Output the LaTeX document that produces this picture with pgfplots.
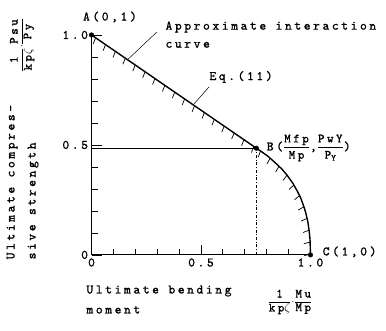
\documentclass[border=0pt]{standalone}
\usepackage{fontspec}
\usepackage{pgfplots}
\pgfplotsset{compat=1.18}
\usetikzlibrary{decorations.markings}

\newfontfamily\tw{lmmono10-regular.otf}[LetterSpace=20, FakeBold=1.2]
\newcommand\lab{\tw\fontsize{13}{15}\selectfont}
\newcommand\sm{\tw\fontsize{12.5}{14}\selectfont}
\newcommand\fr[2]{$\displaystyle\frac{\hbox{\sm #1}}{\hbox{\sm #2}}$}

\tikzset{hatch/.style={postaction={decorate,
  decoration={markings, mark=between positions 5bp and 1 step 12bp with
    {\draw[line width=0.7pt] (0,0) -- (-77:6.5bp);}}}}}

\begin{document}
\begin{tikzpicture}
\begin{axis}[
  x=219bp, y=220bp,
  xmin=0, xmax=1, ymin=0, ymax=1,
  enlargelimits=false,
  axis lines=left,
  axis line style={-, line width=1.1pt},
  xtick={0,0.5,1}, ytick={0,0.5,1},
  xticklabels={0,0.5,1.0}, yticklabels={0,0.5,1.0},
  minor xtick={0.1,0.2,0.3,0.4,0.6,0.7,0.8,0.9},
  minor ytick={0.1,0.2,0.3,0.4,0.6,0.7,0.8,0.9},
  tick align=inside,
  major tick length=10bp, minor tick length=6bp,
  tick style={line width=0.8pt, black},
  ticklabel style={font=\lab},
  clip=false,
]
% bounding box of the reference picture
\path (axis cs:-0.418,-0.345) rectangle (axis cs:1.345,1.159);

% interaction curve: straight part A-B, curved part B-C
\addplot[line width=1.4pt, hatch] coordinates {(0,1) (0.753,0.485)};
\addplot[line width=1.4pt, hatch] coordinates {
  (0.753,0.485) (0.78,0.467) (0.81,0.445) (0.84,0.418) (0.87,0.39)
  (0.895,0.36) (0.92,0.325) (0.94,0.29) (0.955,0.26) (0.968,0.225)
  (0.979,0.19) (0.988,0.15) (0.994,0.11) (0.998,0.07) (1,0)};

% guide lines through B
\addplot[line width=0.5pt] coordinates {(0,0.485) (0.753,0.485)};
\addplot[line width=0.5pt, dash dot] coordinates {(0.753,0) (0.753,0.485)};

% points A, B, C
\addplot[only marks, mark=*, mark size=2.3bp] coordinates {(0,1) (0.753,0.485) (1,0)};

% labels
\node[font=\lab] at (axis cs:0.084,1.082) {A(0,1)};
\node[font=\lab, anchor=west] at (axis cs:0.322,1.036) {Approximate interaction};
\node[font=\lab, anchor=west] at (axis cs:0.322,0.955) {curve};
\draw[line width=0.5pt] (axis cs:0.299,1.014) -- (axis cs:0.164,0.887);
\node[font=\lab] at (axis cs:0.683,0.809) {Eq.(11)};
\draw[line width=0.5pt] (axis cs:0.537,0.764) -- (axis cs:0.464,0.682);
\node[font=\lab, anchor=west, inner sep=0pt] at (axis cs:0.80,0.486)
  {B(\fr{Mfp}{Mp},\fr{PwY}{P\lower2pt\hbox{\fontsize{9}{10}\selectfont Y}})};
\node[font=\lab, anchor=west] at (axis cs:1.040,0.014) {C(1,0)};

% axis titles
\node[font=\lab, rotate=90, anchor=west] at (axis cs:-0.363,-0.036) {Ultimate compres-};
\node[font=\lab, rotate=90, anchor=west] at (axis cs:-0.267,-0.036) {sive strength};
\node[rotate=90] at (axis cs:-0.317,0.955) {\fr{1}{kp$\zeta$}$\cdot$\fr{Psu}{Py}};
\node[font=\lab, anchor=west] at (axis cs:-0.039,-0.164) {Ultimate bending};
\node[font=\lab, anchor=west] at (axis cs:-0.039,-0.250) {moment};
\node at (axis cs:0.906,-0.214) {\fr{1}{kp$\zeta$}$\cdot$\fr{Mu}{Mp}};
\end{axis}
\end{tikzpicture}
\end{document}
